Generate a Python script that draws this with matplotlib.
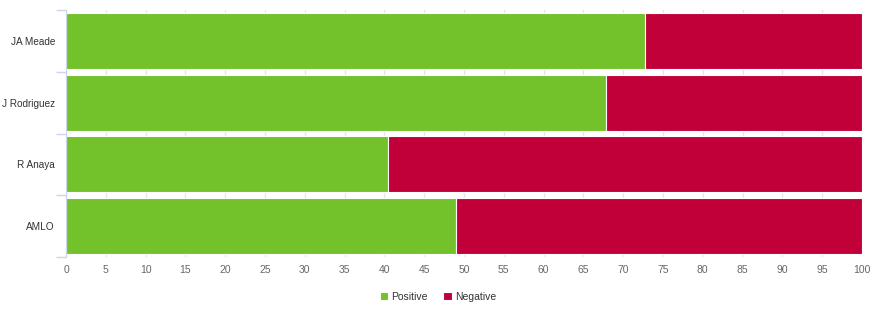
import matplotlib.pyplot as plt
import numpy as np

plt.rcParams['font.family'] = ['Liberation Sans', 'DejaVu Sans']

# candidates, top to bottom
candidates = ["JA Meade", "J Rodriguez", "R Anaya", "AMLO"]
positive = [72.7, 67.8, 40.4, 49.0]
negative = [27.3, 32.2, 59.6, 51.0]

green = "#73c22c"
red = "#c10039"

fig = plt.figure(figsize=(8.73, 3.11), dpi=100)
ax = fig.add_axes([66 / 873, 1 - 257 / 311, 796 / 873, 247 / 311])

y = np.arange(len(candidates))
ax.barh(y, positive, height=0.91, color=green, edgecolor="white", linewidth=0.8, label="Positive", zorder=2)
ax.barh(y, negative, left=positive, height=0.91, color=red, edgecolor="white", linewidth=0.8, label="Negative", zorder=2)

ax.set_xlim(0, 100)
ax.set_ylim(len(candidates) - 0.5, -0.5)
ax.set_xticks(np.arange(0, 101, 5))
ax.tick_params(axis="x", length=0, labelsize=7.5, colors="#666666", pad=6)
ax.set_yticks(y)
ax.set_yticklabels(candidates)
ax.tick_params(axis="y", length=0, labelsize=7.2, colors="#333333", pad=8)
ax.set_yticks(np.arange(-0.5, len(candidates), 1), minor=True)
ax.tick_params(axis="y", which="minor", length=7, color="#ccd6eb", width=1)

ax.grid(axis="x", color="#e6e6e6", linewidth=1, zorder=0)
ax.set_axisbelow(True)
for side in ["top", "right", "bottom"]:
    ax.spines[side].set_visible(False)
ax.spines["left"].set_color("#ccd6eb")

fig.legend(loc="center", bbox_to_anchor=(438 / 873, 1 - 297 / 311), ncol=2, frameon=False,
           fontsize=7.5, handlelength=0.8, handleheight=0.8, handletextpad=0.3, columnspacing=1.5,
           labelcolor="#333333")

plt.savefig("out.png", dpi=100)
